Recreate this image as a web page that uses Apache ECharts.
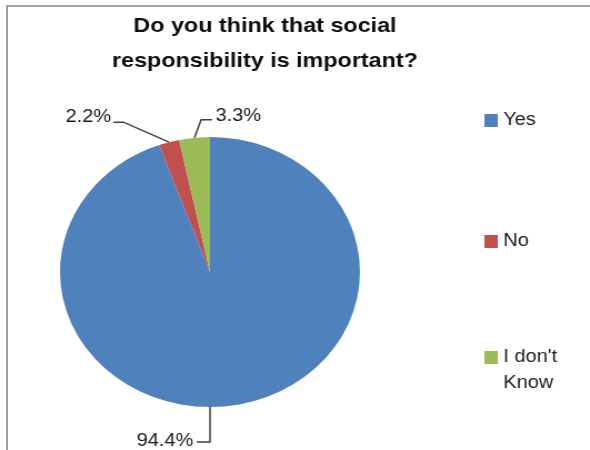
<!DOCTYPE html>
<html lang="en">
<head>
  <meta charset="UTF-8">
  <title>Social responsibility</title>
  <script src="https://cdn.jsdelivr.net/npm/echarts@6/dist/echarts.min.js"></script>
  <style>
    body { margin: 0; background: #fff; overflow: hidden; }
    #frame { position: absolute; left: 6px; top: 5px; width: 620px; height: 470px;
             border-left: 2px solid #a0a0a0; border-top: 2px solid #a0a0a0; }
    /* the picture is stretched sideways, so draw narrower and widen it */
    #chart { position: absolute; left: 0; top: 0; width: 531px; height: 450px;
             transform: scaleX(1.111); transform-origin: 0 0; }
  </style>
</head>
<body>
<div id="frame"></div>
<div id="chart"></div>
<script>
// data
var categories = ['Yes', 'No', "I don't Know"];
var percents = [94.4, 2.2, 3.3];
var colors = ['#4F81BD', '#C0504D', '#9BBB59'];

var CX = 189, CY = 272, R = 135;
var FONT = 'Liberation Sans, Arial, sans-serif';

// leader line bends, relative to where the line leaves the slice
var leaders = [
  { line: [[0, 35], [-12, 35]], text: [-15, 34], align: 'right' },
  { line: [[-41, -20], [-50, -20]], text: [-52, -25], align: 'right' },
  { line: [[6, -18], [16, -18]], text: [19, -22], align: 'left' }
];
var legendTops = [107.5, 228.5, 318.5];

var chart = echarts.init(document.getElementById('chart'));

chart.setOption({
  animation: false,
  title: {
    text: 'Do you think that social\nresponsibility is important?',
    left: 238.5, top: 9, padding: 0,
    textAlign: 'center',
    textStyle: { fontFamily: FONT, fontSize: 21, fontWeight: 'bold', color: '#0d0d0d', lineHeight: 35 }
  },
  legend: categories.map(function (name, i) {
    return {
      orient: 'vertical', left: 436, top: legendTops[i], padding: 0,
      icon: 'rect', itemWidth: 12, itemHeight: 13,
      selectedMode: false,
      data: [name],
      // two-line entry: a blank first line keeps the swatch level with "I don't"
      formatter: function (n) {
        return n.indexOf(' Know') > 0 ? '\n' + n.replace(' Know', '\nKnow') : n;
      },
      textStyle: { fontFamily: FONT, fontSize: 18, color: '#1a1a1a', lineHeight: 26 }
    };
  }),
  series: [{
    type: 'pie',
    center: [CX, CY],
    radius: R,
    startAngle: 90,
    clockwise: true,
    avoidLabelOverlap: false,
    itemStyle: { borderWidth: 0 },
    label: {
      show: true,
      formatter: '{c}%',
      fontFamily: FONT, fontSize: 18, color: '#1a1a1a'
    },
    labelLine: { show: true, length: 10, length2: 10, lineStyle: { color: '#404040', width: 1.5 } },
    labelLayout: function (p) {
      var lead = leaders[p.dataIndex];
      var s = p.dataIndex === 0 ? [CX, CY + R] : p.labelLinePoints[0];
      return {
        x: s[0] + lead.text[0],
        y: s[1] + lead.text[1],
        align: lead.align,
        verticalAlign: 'middle',
        labelLinePoints: [s].concat(lead.line.map(function (d) {
          return [s[0] + d[0], s[1] + d[1]];
        }))
      };
    },
    data: categories.map(function (name, i) {
      return { name: name, value: percents[i], itemStyle: { color: colors[i] } };
    })
  }]
});
</script>
</body>
</html>
